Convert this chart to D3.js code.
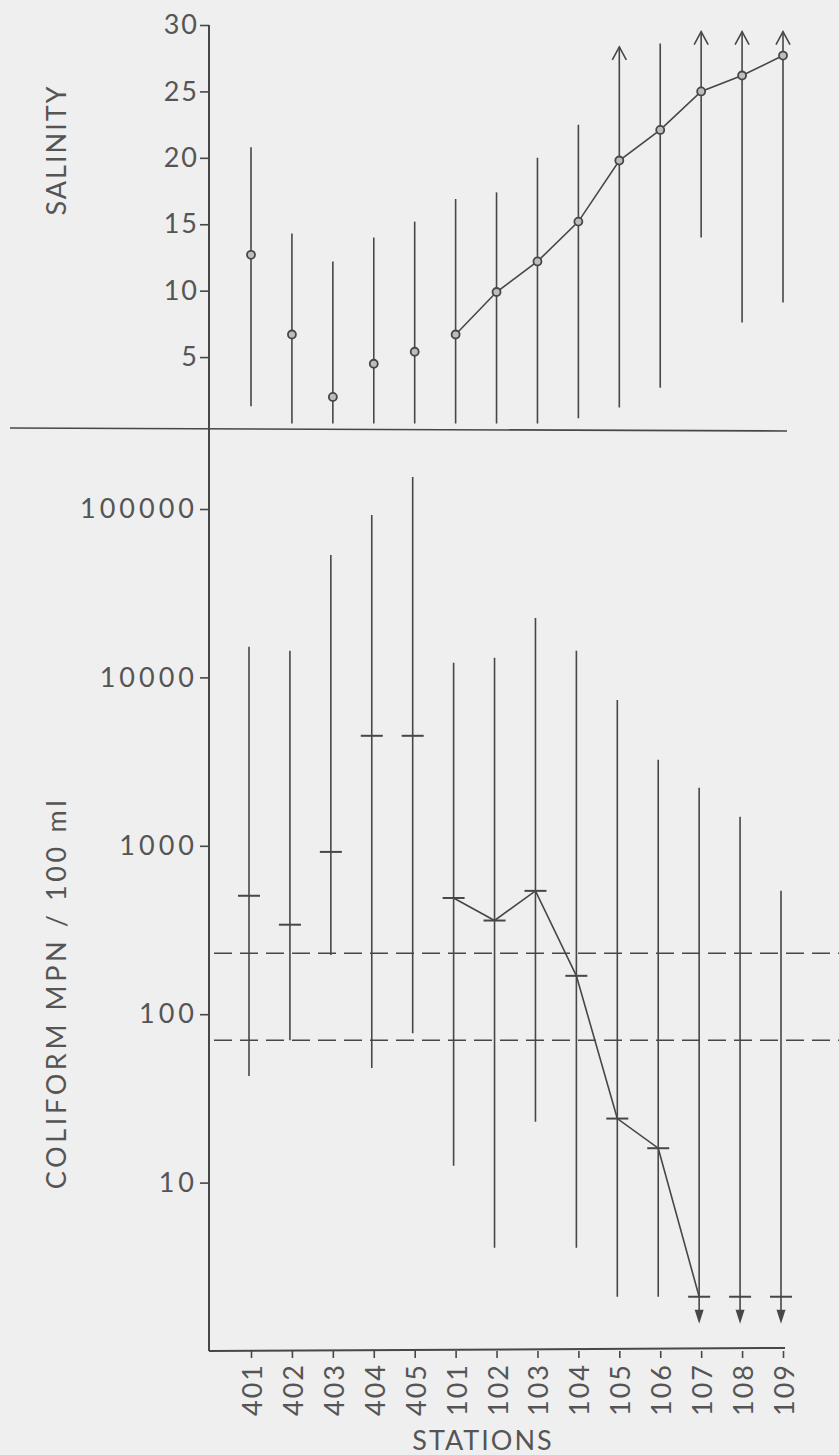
<!DOCTYPE html>
<html>
<head>
<meta charset="utf-8">
<script src="https://cdn.jsdelivr.net/npm/d3@7"></script>
<style>
  body { margin: 0; background: #efefef; }
  text { font-family: Lato, "Open Sans", sans-serif; fill: #555; }
</style>
</head>
<body>
<div id="chart"></div>
<script>
const width = 839, height = 1455;

// stations along the bottom
const stations = ["401", "402", "403", "404", "405", "101", "102", "103", "104", "105", "106", "107", "108", "109"];

// salinity: mean, min, max
const salMean = [12.7, 6.7, 2.0, 4.5, 5.4, 6.7, 9.9, 12.2, 15.2, 19.8, 22.1, 25.0, 26.2, 27.7];
const salMin = [1.3, 0, 0, 0, 0, 0, 0, 0, 0.4, 1.2, 2.7, 14.0, 7.6, 9.1];
const salMax = [20.8, 14.3, 12.2, 14.0, 15.2, 16.9, 17.4, 20.0, 22.5, 28.35, 28.6, 29.5, 29.5, 29.5];
const salArrow = ["105", "107", "108", "109"];      // max goes off the top
const salLinked = ["101", "102", "103", "104", "105", "106", "107", "108", "109"];

// coliform MPN / 100 ml: median, min, max
const colMedian = [505, 340, 920, 4500, 4500, 490, 360, 540, 169, 24, 16, 2.1, 2.1, 2.1];
const colMin = [43, 70, 225, 48, 77, 12.6, 4.1, 23, 4.1, 2.1, 2.1, 2.1, 2.1, 2.1];
const colMax = [15200, 14400, 53300, 92000, 155000, 12200, 13100, 22500, 14400, 7350, 3240, 2210, 1490, 540];
const colBelow = ["107", "108", "109"];             // median below detection
const colLinked = ["101", "102", "103", "104", "105", "106", "107"];

// standards (dashed lines)
const limits = [230, 70];

const salTicks = [5, 10, 15, 20, 25, 30];
const colTicks = [10, 100, 1000, 10000, 100000];

const ink = "#474747";
const axisX = 209;

const svg = d3.select("#chart").append("svg")
    .attr("width", width)
    .attr("height", height);

svg.append("rect").attr("width", width).attr("height", height).attr("fill", "#efefef");

const x = d3.scalePoint().domain(stations).range([251, 783]);
const ySal = d3.scaleLinear().domain([0, 30]).range([423.5, 25]);
const yCol = d3.scaleLog().domain([1, 100000]).range([1351, 509]);

const rows = stations.map((s, i) => ({
    station: s,
    mean: salMean[i], smin: salMin[i], smax: salMax[i],
    med: colMedian[i], cmin: colMin[i], cmax: colMax[i]
}));

// main vertical axis line + separator
svg.append("line")
    .attr("x1", axisX).attr("x2", axisX)
    .attr("y1", ySal(30)).attr("y2", yCol(1))
    .attr("stroke", ink).attr("stroke-width", 2);

svg.append("line")
    .attr("x1", 10).attr("x2", x("109") + 4)
    .attr("y1", 428).attr("y2", 431)
    .attr("stroke", ink).attr("stroke-width", 1.6);

// salinity axis
const salAxis = svg.append("g")
    .attr("transform", `translate(${axisX},0)`)
    .call(d3.axisLeft(ySal).tickValues(salTicks).tickSize(9).tickPadding(1));
salAxis.select(".domain").remove();
salAxis.selectAll("line").attr("stroke", ink).attr("stroke-width", 1.6);
salAxis.selectAll("text").attr("font-size", 27).attr("letter-spacing", 2).attr("fill", "#555");

// coliform axis
const colAxis = svg.append("g")
    .attr("transform", `translate(${axisX},0)`)
    .call(d3.axisLeft(yCol).tickValues(colTicks).tickFormat(d3.format("d")).tickSize(9).tickPadding(2));
colAxis.select(".domain").remove();
colAxis.selectAll("line").attr("stroke", ink).attr("stroke-width", 1.6);
colAxis.selectAll("text").attr("font-size", 27).attr("letter-spacing", 4).attr("fill", "#555");

// bottom station axis
const xAxis = svg.append("g")
    .attr("transform", `translate(0,${yCol(1)})`)
    .call(d3.axisBottom(x).tickSize(7).tickSizeOuter(0).tickPadding(8));
xAxis.select(".domain").remove();
xAxis.selectAll("line").attr("stroke", ink).attr("stroke-width", 1.6);
xAxis.selectAll("text")
    .attr("font-size", 27)
    .attr("letter-spacing", 2)
    .attr("fill", "#555")
    .attr("transform", "rotate(-90)")
    .attr("text-anchor", "end")
    .attr("dominant-baseline", "central")
    .attr("x", -12)
    .attr("y", 0)
    .attr("dy", null);

svg.append("line")
    .attr("x1", axisX).attr("x2", x("109") + 2)
    .attr("y1", yCol(1)).attr("y2", yCol(1) - 3)
    .attr("stroke", ink).attr("stroke-width", 2);

// salinity ranges
svg.selectAll(".sal-range")
    .data(rows)
    .join("line")
    .attr("class", "sal-range")
    .attr("x1", d => x(d.station)).attr("x2", d => x(d.station))
    .attr("y1", d => ySal(d.smin)).attr("y2", d => ySal(d.smax))
    .attr("stroke", ink).attr("stroke-width", 1.6);

svg.selectAll(".sal-arrow")
    .data(rows.filter(d => salArrow.includes(d.station)))
    .join("path")
    .attr("class", "sal-arrow")
    .attr("d", d => {
        const cx = x(d.station), cy = ySal(d.smax);
        return `M${cx - 7},${cy + 13}L${cx},${cy}L${cx + 7},${cy + 13}`;
    })
    .attr("fill", "none").attr("stroke", ink).attr("stroke-width", 1.6);

const salLine = d3.line().x(d => x(d.station)).y(d => ySal(d.mean));
svg.append("path")
    .datum(rows.filter(d => salLinked.includes(d.station)))
    .attr("d", salLine)
    .attr("fill", "none").attr("stroke", ink).attr("stroke-width", 1.6);

svg.selectAll(".sal-dot")
    .data(rows)
    .join("circle")
    .attr("class", "sal-dot")
    .attr("cx", d => x(d.station)).attr("cy", d => ySal(d.mean))
    .attr("r", 4)
    .attr("fill", "#bdbdbd").attr("stroke", ink).attr("stroke-width", 1.8);

// standards
svg.selectAll(".limit")
    .data(limits)
    .join("line")
    .attr("class", "limit")
    .attr("x1", 214).attr("x2", width)
    .attr("y1", d => yCol(d)).attr("y2", d => yCol(d))
    .attr("stroke", ink).attr("stroke-width", 1.5)
    .attr("stroke-dasharray", "18,8");

// coliform ranges
svg.selectAll(".col-range")
    .data(rows)
    .join("line")
    .attr("class", "col-range")
    .attr("x1", d => x(d.station) - 2).attr("x2", d => x(d.station) - 2)
    .attr("y1", d => yCol(d.cmin)).attr("y2", d => yCol(d.cmax))
    .attr("stroke", ink).attr("stroke-width", 1.6);

const colLine = d3.line().x(d => x(d.station) - 2).y(d => yCol(d.med));
svg.append("path")
    .datum(rows.filter(d => colLinked.includes(d.station)))
    .attr("d", colLine)
    .attr("fill", "none").attr("stroke", ink).attr("stroke-width", 1.6);

svg.selectAll(".col-med")
    .data(rows)
    .join("line")
    .attr("class", "col-med")
    .attr("x1", d => x(d.station) - 13).attr("x2", d => x(d.station) + 9)
    .attr("y1", d => yCol(d.med)).attr("y2", d => yCol(d.med))
    .attr("stroke", ink).attr("stroke-width", 2);

const below = svg.selectAll(".col-below")
    .data(rows.filter(d => colBelow.includes(d.station)))
    .join("g")
    .attr("class", "col-below")
    .attr("transform", d => `translate(${x(d.station) - 2},${yCol(d.med)})`);
below.append("line")
    .attr("y1", 0).attr("y2", 16)
    .attr("stroke", ink).attr("stroke-width", 1.6);
below.append("path")
    .attr("d", "M-4.5,13L4.5,13L0,27Z")
    .attr("fill", ink);

// axis titles
svg.append("text")
    .attr("transform", "translate(66,150) rotate(-90)")
    .attr("text-anchor", "middle")
    .attr("font-size", 27)
    .attr("letter-spacing", 2)
    .text("SALINITY");

svg.append("text")
    .attr("transform", "translate(66,993) rotate(-90)")
    .attr("text-anchor", "middle")
    .attr("font-size", 27)
    .attr("letter-spacing", 3.6)
    .text("COLIFORM MPN / 100 ml");

svg.append("text")
    .attr("x", 483).attr("y", 1450)
    .attr("text-anchor", "middle")
    .attr("font-size", 27)
    .attr("letter-spacing", 2)
    .text("STATIONS");
</script>
</body>
</html>
